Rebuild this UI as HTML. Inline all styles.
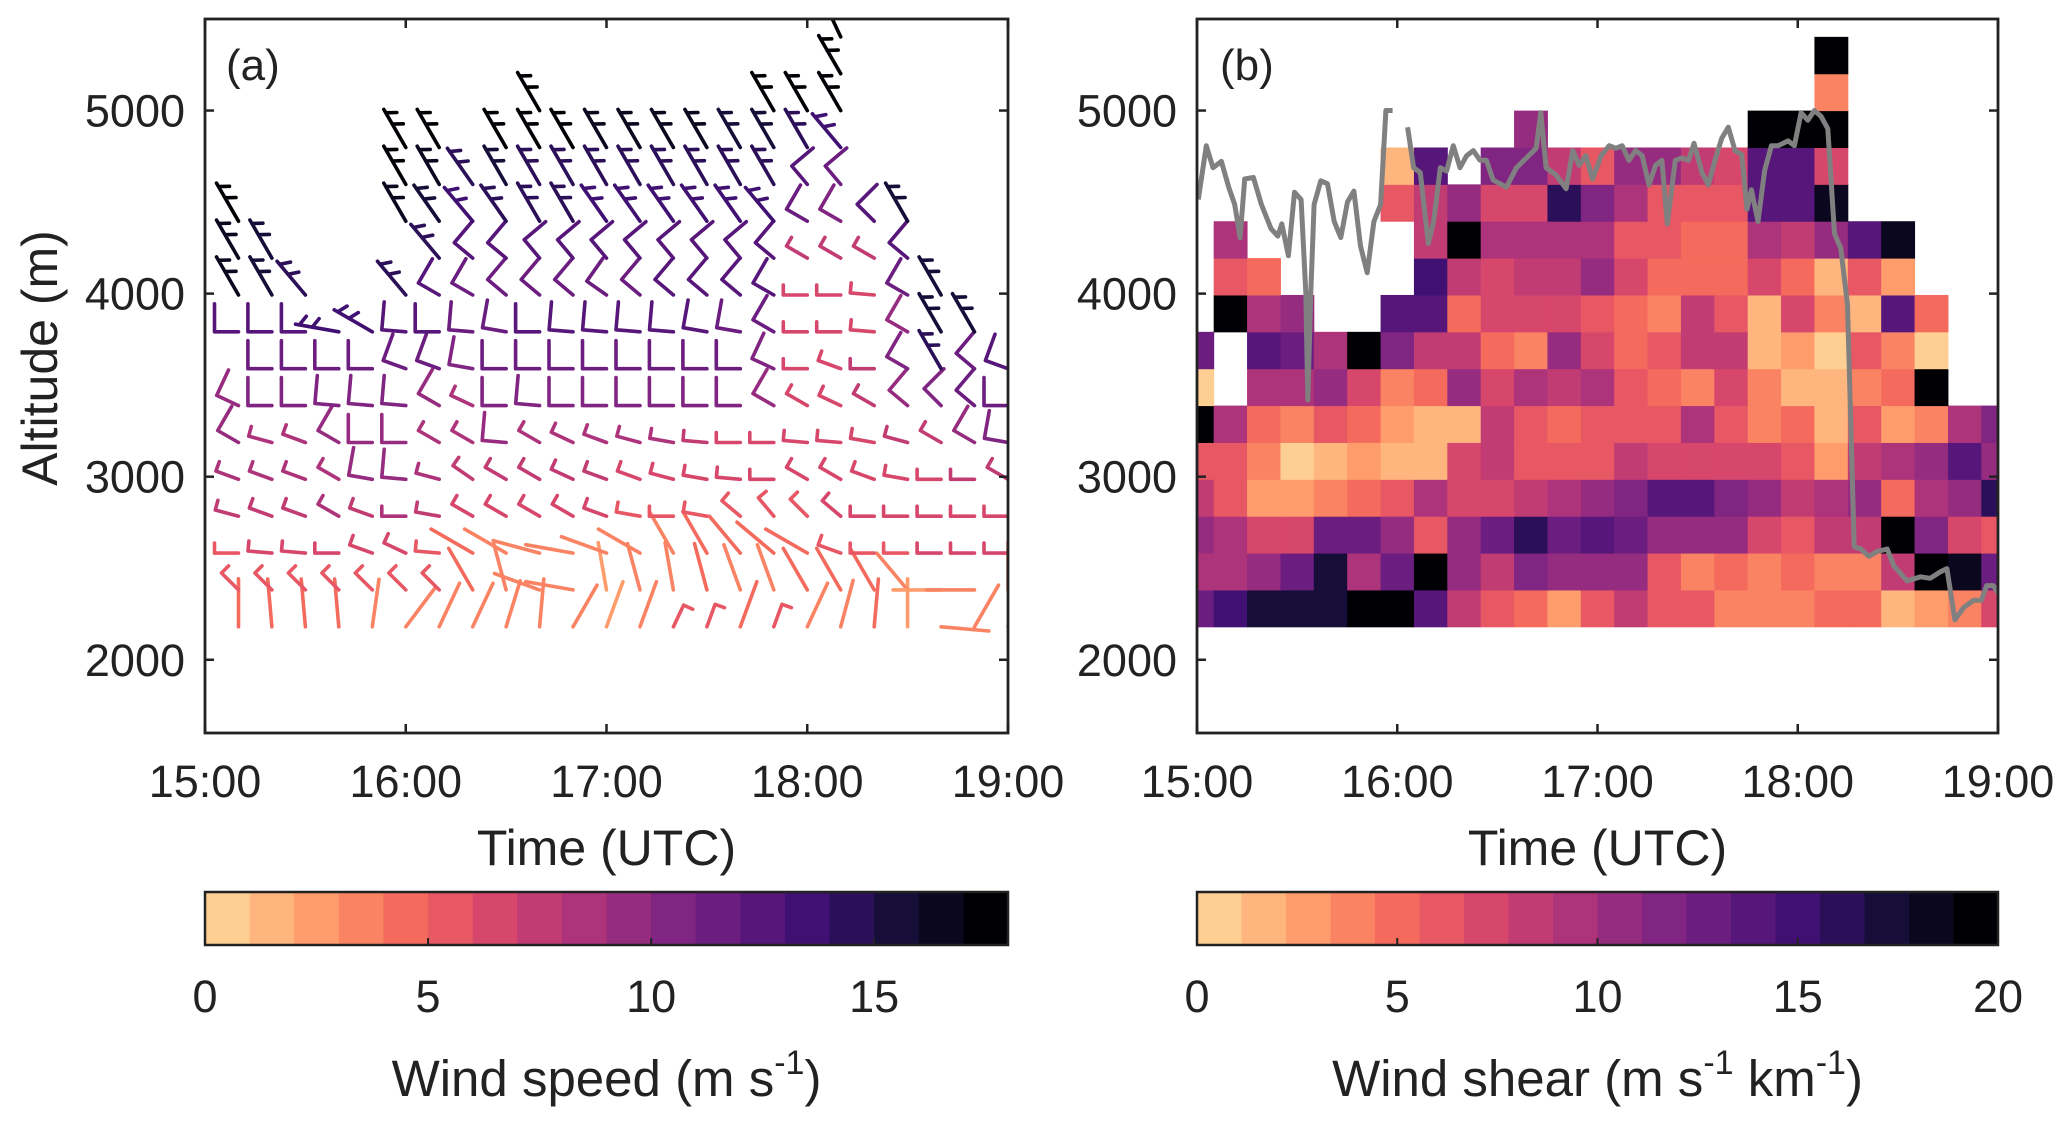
<!DOCTYPE html>
<html><head><meta charset="utf-8">
<style>
html,body{margin:0;padding:0;background:#fff;}
svg{display:block;font-family:"Liberation Sans",Arial,sans-serif;}
</style></head>
<body>
<svg id="fig" width="2067" height="1123" viewBox="0 0 2067 1123" xmlns="http://www.w3.org/2000/svg">
<defs>
<clipPath id="clipA"><rect x="205" y="19" width="803" height="714"/></clipPath>
<clipPath id="clipB"><rect x="1197" y="19" width="801" height="714"/></clipPath>
</defs>
<g id="panelA"></g>
<g id="panelB"></g>
</svg>
<script>
// ---------- data ----------
const barbTimes = [10,20,30,40,50,60,70,80,90,100,110,120,130,140,150,160,170,180,190,200,210,220,230,240];
const levelBase = 2180, levelStep = 201.4;
const windSpeed = [
[4,4,4,4,3,3,3,3,3,3,3,2,3,5,5,4,5,3,3,4,2,3,3,2],
[5,5,5,5,5,5,5,4,3,3,3,2,3,3,4,3,3,4,4,4,3,2,3,3],
[5,6,6,6,6,6,5,4,3,3,3,3,3,3,4,4,4,4,5,5,5,6,6,6],
[7,7,7,8,7,8,7,6,6,6,6,6,5,5,5,5,5,5,6,6,6,6,6,6],
[8,8,8,8,9,9,8,7,7,7,7,7,6,6,6,6,6,6,6,6,6,6,7,7],
[9,8,8,9,9,9,8,8,9,8,8,8,8,8,7,6,6,6,6,6,7,7,9,10],
[9,10,10,10,10,10,9,8,10,10,10,10,10,10,10,10,9,6,6,7,9,10,11,11],
[null,11,11,11,11,11,11,10,11,11,11,11,11,11,11,11,10,6,6,7,10,14,11,12],
[12,12,12,13,13,12,12,11,11,12,12,12,12,12,12,11,11,6,6,6,9,15,15,null],
[16,15,14,null,null,14,12,11,11,11,11,11,11,12,12,12,12,6,6,6,11,15,null,null],
[16,15,null,null,null,null,14,12,12,12,12,12,12,12,12,12,12,7,7,7,12,null,null,null],
[17,null,null,null,null,16,15,13,14,14,14,13,13,13,13,13,13,11,10,12,15,null,null,null],
[null,null,null,null,null,17,16,14,15,14,14,14,14,14,14,14,14,12,11,null,null,null,null,null],
[null,null,null,null,null,18,17,null,17,17,17,16,16,16,16,15,15,14,13,null,null,null,null,null],
[null,null,null,null,null,null,null,null,null,18,null,null,null,null,null,null,17,17,17,null,null,null,null,null],
[null,null,null,null,null,null,null,null,null,null,null,null,null,null,null,null,null,null,18,null,null,null,null,null],
[null,null,null,null,null,null,null,null,null,null,null,null,null,null,null,null,null,null,18,null,null,null,null,null]
];
const windDir = [
[0,355,355,355,8,37,25,25,17,5,30,20,20,25,20,20,20,25,15,5,0,95,30,15],
[315,315,315,315,315,315,315,330,345,290,280,350,345,350,345,340,340,330,330,330,320,270,270,0],
[270,275,275,270,290,295,275,300,300,285,280,290,300,330,330,320,310,300,290,270,270,270,270,270],
[285,290,290,300,290,270,280,300,300,300,300,290,280,270,280,310,320,315,310,270,270,270,270,270],
[290,290,290,300,280,275,285,305,300,300,295,290,290,285,280,275,270,300,300,290,280,270,270,300],
[300,285,290,300,270,270,300,300,275,300,295,290,285,280,275,270,270,275,275,280,285,300,300,280],
[295,270,270,275,275,275,300,295,270,275,270,270,270,270,270,270,300,300,295,300,310,315,310,270],
[0,270,270,270,270,290,290,280,270,270,270,270,270,270,270,270,295,270,290,270,300,330,310,290],
[270,270,270,280,300,275,270,275,280,270,275,275,275,275,280,280,300,270,270,275,300,330,330,0],
[330,330,320,0,0,320,300,300,310,310,310,305,310,310,310,310,300,270,270,275,300,330,0,0],
[330,330,0,0,0,0,320,310,310,320,320,320,320,320,320,320,310,300,300,300,310,330,0,0],
[330,0,0,0,0,330,325,320,325,330,330,325,325,325,325,325,320,300,300,315,330,0,0,0],
[0,0,0,0,0,330,330,325,330,330,330,330,330,330,330,330,330,320,320,0,0,0,0,0],
[0,0,0,0,0,330,330,0,330,330,330,330,330,330,330,330,330,330,320,0,0,0,0,0],
[0,0,0,0,0,0,0,0,0,330,0,0,0,0,0,0,330,330,330,0,0,0,0,0],
[0,0,0,0,0,0,0,0,0,0,0,0,0,0,0,0,0,0,330,0,0,0,0,0],
[0,0,0,0,0,0,0,0,0,0,0,0,0,0,0,0,0,0,335,0,0,0,0,0]
];
const shearTimes = [0,10,20,30,40,50,60,70,80,90,100,110,120,130,140,150,160,170,180,190,200,210,220,230,240];
const N = null;
const shear = [
[13,15,17,17,17,20,19,14,8,6,5,3,6,8,6,6,4,4,4,5,5,2,3,4,7],
[9,9,10,13,17,9,13,19,10,8,12,10,11,10,6,4,5,4,5,4,4,8,20,18,13],
[11,9,7,7,13,13,10,6,10,13,16,13,14,13,10,10,10,7,6,8,8,20,12,7,6],
[8,6,3,3,4,5,6,9,7,7,8,9,10,12,14,14,12,10,8,9,11,5,9,11,16],
[6,6,4,1,2,3,2,2,7,8,6,6,6,8,7,7,7,7,6,3,8,9,11,14,11],
[20,9,5,4,6,5,3,2,2,8,6,5,6,6,6,9,6,4,5,2,6,3,4,9,12],
[1,N,9,9,11,7,4,5,10,7,9,8,9,6,5,4,7,4,2,2,4,5,20,N,N],
[13,N,14,13,9,19,12,8,8,5,4,11,7,5,6,8,8,2,3,1,6,4,1,N,N],
[N,20,9,10,N,N,14,14,5,7,7,7,6,5,4,8,6,2,7,4,2,14,5,N,N],
[N,6,5,N,N,N,N,15,8,7,8,8,10,7,5,5,5,7,5,2,6,3,N,N,N],
[N,9,N,N,N,N,N,8,20,9,9,9,9,6,6,5,5,9,8,10,14,18,N,N,N],
[N,N,N,N,N,N,6,8,11,7,7,16,12,9,6,6,6,14,14,18,N,N,N,N,N],
[N,N,N,N,N,N,2,14,N,12,12,8,6,11,10,8,7,14,14,7,N,N,N,N,N],
[N,N,N,N,N,N,N,N,N,N,10,N,N,N,N,N,N,20,20,20,N,N,N,N,N],
[N,N,N,N,N,N,N,N,N,N,N,N,N,N,N,N,N,N,N,4,N,N,N,N,N],
[N,N,N,N,N,N,N,N,N,N,N,N,N,N,N,N,N,N,N,20,N,N,N,N,N]
];
const lineTime = [0.4,2.8,4.8,7.3,9.5,11.3,12.9,14.3,16.9,19.3,22.2,24.2,25.4,27.4,29.2,31.2,32.6,33.2,34.1,35.1,37.1,39.1,41.1,43.1,45.1,47.0,49.0,51.0,53.0,55.0,56.6,58.6,60.8,63.1,64.9,66.9,69.3,70.9,72.9,74.8,76.8,78.8,80.8,82.8,84.8,86.7,88.7,92.7,95.7,98.7,101.6,103.0,104.6,107.6,110.6,112.6,114.5,116.5,118.5,121.1,123.5,125.5,127.4,129.4,131.4,133.4,135.4,137.4,139.3,140.9,143.3,145.3,147.3,148.9,151.3,153.2,155.2,157.2,159.2,161.2,163.2,164.8,166.1,168.1,170.1,172.1,174.1,177.1,179.0,181.0,183.0,185.0,187.0,189.0,191.0,192.9,194.9,196.9,198.9,201.3,203.9,206.8,208.8,212.8,216.8,219.7,222.7,224.7,227.1,229.7,232.7,235.0,236.6,238.6,240];
const lineAlt = [4514,4808,4688,4722,4581,4487,4306,4626,4634,4487,4354,4314,4381,4207,4554,4514,4007,3419,4007,4487,4616,4600,4394,4306,4501,4560,4260,4114,4394,4487,5000,5000,null,4909,4688,4661,4274,4394,4688,4669,4808,4688,4754,4781,4728,4728,4621,4581,4688,4741,4794,4989,4688,4648,4573,4781,4701,4754,4626,4754,4808,4794,4808,4728,4781,4754,4594,4701,4728,4381,4728,4741,4728,4821,4661,4594,4728,4848,4909,4781,4760,4461,4567,4394,4674,4808,4808,4834,4808,4989,4947,5000,4968,4901,4327,4247,3940,2618,2605,2565,2592,2605,2512,2431,2453,2445,2480,2498,2218,2285,2325,2325,2405,2405,2365];
const xTickLabels = ["15:00","16:00","17:00","18:00","19:00"];
const yTickValues = [2000,3000,4000,5000];
const cbarATicks = [0,5,10,15];
const cbarBTicks = [0,5,10,15,20];

// ---------- helpers ----------
const NS = "http://www.w3.org/2000/svg";
function mk(tag, attrs, parent){const e=document.createElementNS(NS,tag);for(const k in attrs)e.setAttribute(k,attrs[k]);parent.appendChild(e);return e;}
const magmaStops=[[0,[0,0,4]],[0.1,[20,14,54]],[0.2,[59,15,112]],[0.3,[100,26,128]],[0.4,[140,41,129]],[0.5,[183,55,121]],[0.6,[222,73,104]],[0.7,[247,112,92]],[0.8,[254,159,109]],[0.9,[254,207,146]],[1,[252,253,191]]];
function magma(t){t=Math.max(0,Math.min(1,t));for(let i=1;i<magmaStops.length;i++){if(t<=magmaStops[i][0]){const a=magmaStops[i-1],b=magmaStops[i];const f=(t-a[0])/(b[0]-a[0]);const c=a[1].map((v,j)=>Math.round(v+(b[1][j]-v)*f));return `rgb(${c[0]},${c[1]},${c[2]})`;}}return "rgb(252,253,191)";}
function levelColor(i){return magma(0.9-i*(0.9/17));}
function colorFor(v,vmax){let i=Math.floor(v/vmax*18);if(i>17)i=17;if(i<0)i=0;return levelColor(i);}
const Y0=733,Y1=19,ALT0=1600,ALT1=5500;
function yOf(a){return Y0-(a-ALT0)/(ALT1-ALT0)*(Y0-Y1);}
function makeX(x0,x1){return t=>x0+t/240*(x1-x0);}

function drawAxes(g,x0,x1,showLabel,tag){
  const xs=makeX(x0,x1);
  const ax=mk("g",{},g);
  
  
  for(let h=0;h<=4;h++){
    const x=xs(h*60);
    mk("line",{x1:x,y1:Y0,x2:x,y2:Y0-9,stroke:"#222","stroke-width":2.5},ax);
    mk("line",{x1:x,y1:Y1,x2:x,y2:Y1+9,stroke:"#222","stroke-width":2.5},ax);
    const tl=mk("text",{x:x,y:797,"font-size":45,"text-anchor":"middle",fill:"#222"},ax);
    tl.textContent=xTickLabels[h];
    
    
  }
  yTickValues.forEach(v=>{
    const y=yOf(v);
    mk("line",{x1:x0,y1:y,x2:x0+9,y2:y,stroke:"#222","stroke-width":2.5},ax);
    mk("line",{x1:x1,y1:y,x2:x1-9,y2:y,stroke:"#222","stroke-width":2.5},ax);
    const tl=mk("text",{x:x0-20,y:y+16,"font-size":45,"text-anchor":"end",fill:"#222"},ax);
    tl.textContent=String(v);
    
    
  });
  mk("rect",{x:x0,y:Y1,width:x1-x0,height:Y0-Y1,fill:"none",stroke:"#222","stroke-width":2.8},ax);
  const xl=mk("text",{x:(x0+x1)/2,y:865,"font-size":50,"text-anchor":"middle",fill:"#222"},ax);
  xl.textContent="Time (UTC)";
  
  
  if(showLabel){
    const yl=mk("text",{x:0,y:0,"font-size":50,"text-anchor":"middle",fill:"#222",transform:"translate(57,358) rotate(-90)"},ax);
    yl.textContent="Altitude (m)";
    
    
  }
}

function drawColorbar(g,x0,x1,vmax,ticks,tag,labelParts){
  const cb=mk("g",{},g);
  
  
  const y0=892,h=53,w=(x1-x0)/18;
  for(let i=0;i<18;i++){
    const r=mk("rect",{x:x0+i*w,y:y0,width:w+0.6,height:h,fill:levelColor(i)},cb);
    
    
  }
  mk("rect",{x:x0,y:y0,width:x1-x0,height:h,fill:"none",stroke:"#222","stroke-width":2.5},cb);
  ticks.forEach(v=>{
    const x=x0+v/vmax*(x1-x0);
    if(v>0&&v<vmax) mk("line",{x1:x,y1:y0+h,x2:x,y2:y0+h-7,stroke:"#222","stroke-width":2},cb);
    const t=mk("text",{x:x,y:1012,"font-size":45,"text-anchor":"middle",fill:"#222"},cb);
    t.textContent=String(v);
    
    
  });
  const lab=mk("text",{x:(x0+x1)/2,y:1096,"font-size":51,"text-anchor":"middle",fill:"#222"},cb);
  
  
  labelParts.forEach(p=>{
    const ts=mk("tspan",{},lab);
    if(p.sup){ts.setAttribute("dy","-22");ts.setAttribute("font-size","34");}
    else if(p.after){ts.setAttribute("dy","22");}
    ts.textContent=p.t;
  });
}

// ---------- panel A ----------
const gA=document.getElementById("panelA");
const xA=makeX(205,1008);
const barbs=mk("g",{"clip-path":"url(#clipA)"},gA);


windSpeed.forEach((row,r)=>{
  row.forEach((spd,c)=>{
    if(spd===null) return;
    const d=windDir[r][c]*Math.PI/180;
    const bx=xA(barbTimes[c]), by=yOf(levelBase+r*levelStep);
    const ux=Math.sin(d), uy=-Math.cos(d);
    const px=-uy, py=ux;
    let S, marks=[];
    if(spd<4.5){S=48;}
    else if(spd<8.5){S=24;marks=[[0,10,0]];}
    else if(spd<12.5){S=24;marks=[[0,28,0]];}
    else {S=44;marks=[[4,11,0.5],[17,11,0.5]];}
    const tx=bx+S*ux, ty=by+S*uy;
    let dstr=`M${bx.toFixed(1)},${by.toFixed(1)}L${tx.toFixed(1)},${ty.toFixed(1)}`;
    marks.forEach(m=>{
      const sx=tx-m[0]*ux, sy=ty-m[0]*uy;
      const ca=Math.cos(m[2]), sa=Math.sin(m[2]);
      const dx=px*ca-ux*sa, dy=py*ca-uy*sa;
      dstr+=`M${sx.toFixed(1)},${sy.toFixed(1)}l${(m[1]*dx).toFixed(1)},${(m[1]*dy).toFixed(1)}`;
    });
    const p=mk("path",{d:dstr,fill:"none",stroke:colorFor(spd,18),"stroke-width":3.6,"stroke-linecap":"round","stroke-linejoin":"round"},barbs);
    
    
  });
});
drawAxes(gA,205,1008,true,"panel-a");
const la=mk("text",{x:226,y:80,"font-size":44,fill:"#222"},gA);
la.textContent="(a)";


drawColorbar(gA,205,1008,18,cbarATicks,"wind-speed",[{t:"Wind speed (m s"},{t:"-1",sup:true},{t:")",after:true}]);

// ---------- panel B ----------
const gB=document.getElementById("panelB");
const xB=makeX(1197,1998);
const heat=mk("g",{"clip-path":"url(#clipB)"},gB);


shear.forEach((row,r)=>{
  row.forEach((v,k)=>{
    if(v===null) return;
    const xl=xB(shearTimes[k]-5), xr=xB(shearTimes[k]+5);
    const yt=yOf(levelBase+(r+1)*levelStep), yb=yOf(levelBase+r*levelStep);
    const cell=mk("rect",{x:xl,y:yt,width:xr-xl+0.5,height:yb-yt+0.5,fill:colorFor(v,20)},heat);
    
    
  });
});
let dl="",pen=false;
lineTime.forEach((t,i)=>{
  const a=lineAlt[i];
  if(a===null){pen=false;return;}
  dl+=(pen?"L":"M")+xB(t).toFixed(1)+","+yOf(a).toFixed(1);
  pen=true;
});
const gl=mk("path",{d:dl,fill:"none",stroke:"#808080","stroke-width":5,"stroke-linejoin":"round"},heat);


drawAxes(gB,1197,1998,false,"panel-b");
const lb=mk("text",{x:1220,y:80,"font-size":44,fill:"#222"},gB);
lb.textContent="(b)";


drawColorbar(gB,1197,1998,20,cbarBTicks,"wind-shear",[{t:"Wind shear (m s"},{t:"-1",sup:true},{t:" km",after:true},{t:"-1",sup:true},{t:")",after:true}]);
</script>
</body></html>
